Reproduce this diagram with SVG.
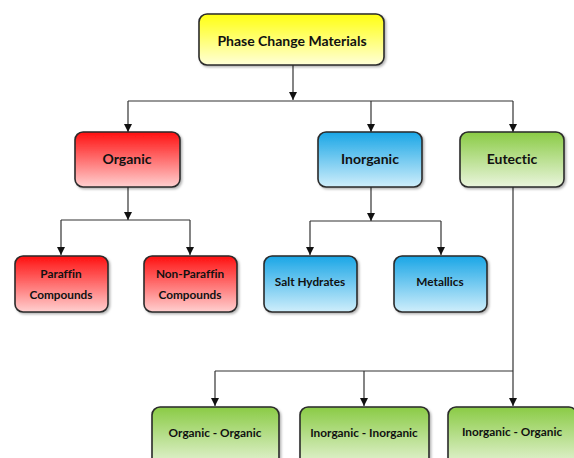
<svg xmlns="http://www.w3.org/2000/svg" width="574" height="458" viewBox="0 0 574 458">
<defs>
<linearGradient id="gy" x1="0" y1="0" x2="0" y2="1"><stop offset="0" stop-color="#FFFF10"/><stop offset="1" stop-color="#FFFFD8"/></linearGradient>
<linearGradient id="gr" x1="0" y1="0" x2="0" y2="1"><stop offset="0" stop-color="#FF1010"/><stop offset="1" stop-color="#FFD0D0"/></linearGradient>
<linearGradient id="gb" x1="0" y1="0" x2="0" y2="1"><stop offset="0" stop-color="#1AA6E6"/><stop offset="1" stop-color="#CFEEFB"/></linearGradient>
<linearGradient id="gg" x1="0" y1="0" x2="0" y2="1"><stop offset="0" stop-color="#8ACB45"/><stop offset="1" stop-color="#EAF5DD"/></linearGradient>
<filter id="sh" x="-10%" y="-10%" width="130%" height="130%"><feDropShadow dx="1.5" dy="1.5" stdDeviation="1.2" flood-color="#000" flood-opacity="0.3"/></filter>
<marker id="ar" viewBox="0 0 8 8" refX="8" refY="4" markerWidth="8" markerHeight="8" markerUnits="userSpaceOnUse" orient="auto"><path d="M0,0 L8,4 L0,8 z" fill="#111"/></marker>
</defs>
<style>
.box{stroke:#2a2a2a;stroke-width:1.6;filter:url(#sh)}
.t{font-family:Lato,"Open Sans","Liberation Sans",sans-serif;font-weight:bold;fill:#111;text-anchor:middle;font-variant-ligatures:none}
.l{font-size:14px}
.s{font-size:11.8px}
.c{fill:none;stroke:#333;stroke-width:1.2}
.a{marker-end:url(#ar)}
</style>
<rect width="574" height="458" fill="#fff"/>
<g id="connectors">
<path class="c a" d="M293,65 V100"/>
<path class="c" d="M128,101 H513"/>
<path class="c a" d="M128,101 V132"/>
<path class="c a" d="M371,101 V132"/>
<path class="c a" d="M513,101 V132"/>
<path class="c a" d="M128,187 V220"/>
<path class="c" d="M61,220 H190"/>
<path class="c a" d="M61,220 V255"/>
<path class="c a" d="M190,220 V255"/>
<path class="c a" d="M371,187 V221"/>
<path class="c" d="M310,221 H441"/>
<path class="c a" d="M310,221 V255"/>
<path class="c a" d="M441,221 V255"/>
<path class="c" d="M513,187 V371"/>
<path class="c" d="M215,371 H513"/>
<path class="c a" d="M215,371 V406"/>
<path class="c a" d="M364,371 V406"/>
<path class="c a" d="M513,371 V406"/>
</g>
<g id="pcm"><rect class="box" x="199" y="14" width="185" height="51" rx="8" fill="url(#gy)"/><text class="t l" x="292" y="46">Phase Change Materials</text></g>
<g id="organic"><rect class="box" x="75" y="132" width="105" height="55" rx="8" fill="url(#gr)"/><text class="t l" x="127" y="164">Organic</text></g>
<g id="inorganic"><rect class="box" x="318" y="132" width="104" height="55" rx="8" fill="url(#gb)"/><text class="t l" x="370" y="164">Inorganic</text></g>
<g id="eutectic"><rect class="box" x="460" y="132" width="104" height="55" rx="8" fill="url(#gg)"/><text class="t l" x="512" y="164">Eutectic</text></g>
<g id="paraffin"><rect class="box" x="15" y="256" width="93" height="56" rx="8" fill="url(#gr)"/><text class="t s" x="61" y="278">Paraffin</text><text class="t s" x="61" y="299">Compounds</text></g>
<g id="nonparaffin"><rect class="box" x="144" y="256" width="93" height="56" rx="8" fill="url(#gr)"/><text class="t s" x="190" y="278">Non-Paraffin</text><text class="t s" x="190" y="299">Compounds</text></g>
<g id="salt"><rect class="box" x="264" y="256" width="93" height="56" rx="8" fill="url(#gb)"/><text class="t s" x="310" y="286">Salt Hydrates</text></g>
<g id="metallics"><rect class="box" x="394" y="256" width="93" height="56" rx="8" fill="url(#gb)"/><text class="t s" x="440" y="286">Metallics</text></g>
<g id="oo"><rect class="box" x="152" y="407" width="127" height="62" rx="8" fill="url(#gg)"/><text class="t s" x="215" y="437">Organic - Organic</text></g>
<g id="ii"><rect class="box" x="300" y="407" width="129" height="62" rx="8" fill="url(#gg)"/><text class="t s" x="364" y="437">Inorganic - Inorganic</text></g>
<g id="io"><rect class="box" x="448" y="407" width="129" height="62" rx="8" fill="url(#gg)"/><text class="t s" x="512" y="436">Inorganic - Organic</text></g>
</svg>
